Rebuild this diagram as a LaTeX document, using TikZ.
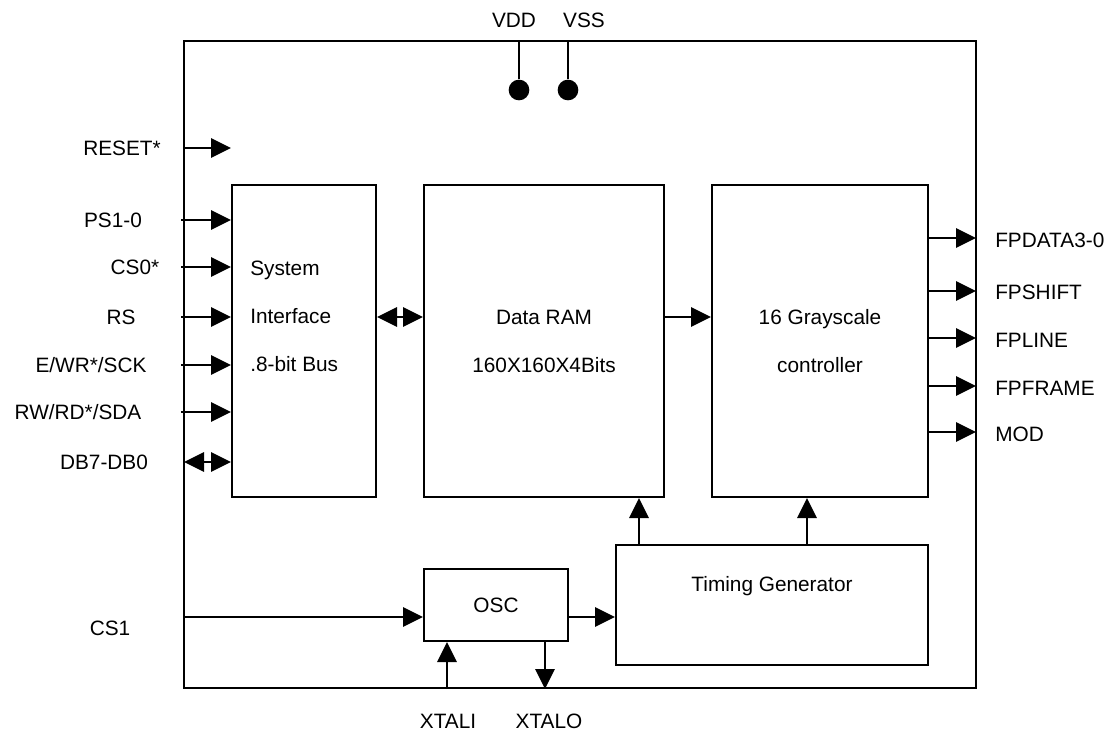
\documentclass[tikz,border=0pt]{standalone}
\usepackage{fontspec}
\setmainfont{Liberation Sans}
\usetikzlibrary{arrows.meta, positioning}
\tikzset{
  bloque/.style={rectangle, draw=black, line width=1.5pt, inner sep=0pt,
    align=center, font=\fontsize{15.6}{36}\selectfont},
  texto/.style={inner sep=0pt, font=\fontsize{15.6}{36}\selectfont},
  etiq/.style={inner sep=0pt, font=\fontsize{15.6}{18}\selectfont,
    text height=11.2pt, text depth=0pt},
  linea/.style={line width=1.5pt},
  flecha/.style={-{Triangle[length=15pt, width=14.5pt]}, line width=1.5pt},
  dflecha/.style={{Triangle[length=15pt, width=14.5pt]}-{Triangle[length=15pt, width=14.5pt]},
    line width=1.5pt},
  punto/.style={circle, fill=black, inner sep=0pt, minimum size=15.5pt}
}
\begin{document}
\begin{tikzpicture}[x=0.75pt, y=-0.75pt]
  \useasboundingbox (0,0) rectangle (1112,733);
  % blocks
  \node[bloque, minimum width=594pt, minimum height=485.25pt] (chip) at (580,364.5) {};
  \node[bloque, minimum width=108pt, minimum height=234pt] (sys) at (304,341) {};
  \node[texto, align=left, anchor=west] (systxt) at (250,316) {System\\Interface\\.8-bit Bus};
  \node[bloque, minimum width=180pt, minimum height=234pt] (ram) at (544,341) {Data RAM\\160X160X4Bits};
  \node[bloque, minimum width=162pt, minimum height=234pt] (ctrl) at (820,341) {16 Grayscale\\controller};
  \node[bloque, minimum width=234pt, minimum height=90pt] (tim) at (772,605) {};
  \node[etiq] (timtxt) at (772,584) {Timing Generator};
  \node[bloque, minimum width=108pt, minimum height=54pt] (osc) at (496,605) {OSC};
  % supply
  \node[punto] (pvdd) at (519,90) {};
  \node[punto] (pvss) at (568,90) {};
  \node[etiq] (lvdd) at (514,20) {VDD};
  \node[etiq] (lvss) at (584,20) {VSS};
  \draw[linea] (pvdd) -- (pvdd |- chip.north);
  \draw[linea] (pvss) -- (pvss |- chip.north);
  % left pins
  \coordinate (preset) at (184,148);
  \coordinate (pps) at (181,220);
  \coordinate (pcs0) at (181,267);
  \coordinate (prs) at (181,317);
  \coordinate (pewr) at (181,365);
  \coordinate (prwrd) at (181,412);
  \coordinate (pdb) at (184,462);
  \coordinate (pcs1) at (184,617);
  \node[etiq] (lreset) at (122,148) {RESET*};
  \node[etiq] (lps) at (113,220) {PS1-0};
  \node[etiq] (lcs0) at (135,267) {CS0*};
  \node[etiq] (lrs) at (121,317) {RS};
  \node[etiq] (lewr) at (91,365) {E/WR*/SCK};
  \node[etiq] (lrwrd) at (78,412) {RW/RD*/SDA};
  \node[etiq] (ldb) at (104,462) {DB7-DB0};
  \node[etiq] (lcs1) at (110,628) {CS1};
  \draw[flecha] (preset) -- (preset -| sys.west);
  \draw[flecha] (pps) -- (pps -| sys.west);
  \draw[flecha] (pcs0) -- (pcs0 -| sys.west);
  \draw[flecha] (prs) -- (prs -| sys.west);
  \draw[flecha] (pewr) -- (pewr -| sys.west);
  \draw[flecha] (prwrd) -- (prwrd -| sys.west);
  \draw[dflecha] (pdb) -- (pdb -| sys.west);
  \draw[flecha] (pcs1) -- (pcs1 -| osc.west);
  % internal
  \coordinate (nivel) at (0,317);
  \draw[dflecha] (sys.east |- nivel) -- (ram.west |- nivel);
  \draw[flecha] (ram.east |- nivel) -- (ctrl.west |- nivel);
  \draw[flecha] (pcs1 -| osc.east) -- (pcs1 -| tim.west);
  \draw[flecha] ([xshift=18pt]tim.north west) -- ([xshift=18pt]tim.north west |- ram.south);
  \draw[flecha] ([xshift=72pt]ctrl.south west |- tim.north) -- ([xshift=72pt]ctrl.south west);
  % crystal
  \draw[flecha] ([xshift=18pt]osc.south west |- chip.south) -- ([xshift=18pt]osc.south west);
  \draw[flecha] ([xshift=-18pt]osc.south east) -- ([xshift=-18pt]osc.south east |- chip.south);
  \node[etiq] (lxi) at (448,721) {XTALI};
  \node[etiq] (lxo) at (549,721) {XTALO};
  % outputs
  \coordinate (ofpd) at (976,238);
  \coordinate (ofps) at (976,291);
  \coordinate (ofpl) at (976,338);
  \coordinate (ofpf) at (976,386);
  \coordinate (omod) at (976,432);
  \draw[flecha] (ctrl.east |- ofpd) -- (ofpd);
  \draw[flecha] (ctrl.east |- ofps) -- (ofps);
  \draw[flecha] (ctrl.east |- ofpl) -- (ofpl);
  \draw[flecha] (ctrl.east |- ofpf) -- (ofpf);
  \draw[flecha] (ctrl.east |- omod) -- (omod);
  \node[etiq, anchor=west] (lfpd) at (995,240) {FPDATA3-0};
  \node[etiq, anchor=west] (lfps) at (995,292) {FPSHIFT};
  \node[etiq, anchor=west] (lfpl) at (995,340) {FPLINE};
  \node[etiq, anchor=west] (lfpf) at (995,388) {FPFRAME};
  \node[etiq, anchor=west] (lmod) at (995,434) {MOD};
\end{tikzpicture}
\end{document}
